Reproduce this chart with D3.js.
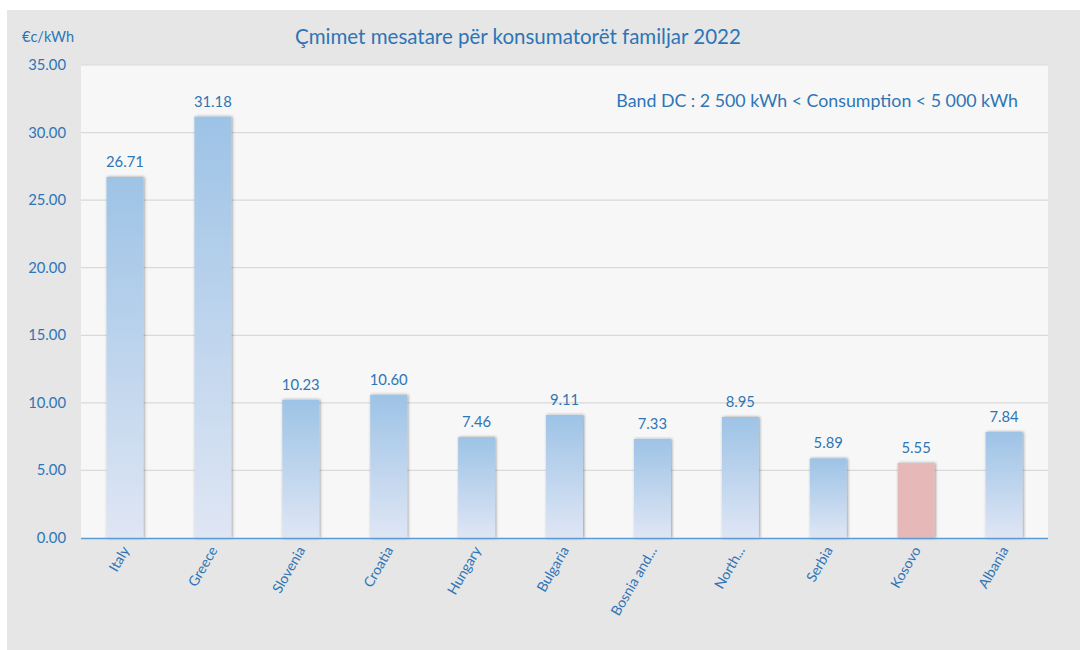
<!DOCTYPE html>
<html><head><meta charset="utf-8">
<script src="https://cdn.jsdelivr.net/npm/d3@7"></script>
<style>body{margin:0;background:#fff}svg{display:block}text{font-family:Lato,"Open Sans",sans-serif}</style>
</head><body>
<svg id="c" width="1080" height="650"></svg>
<script>
const categories = ["Italy","Greece","Slovenia","Croatia","Hungary","Bulgaria","Bosnia and...","North...","Serbia","Kosovo","Albania"];
const values = [26.71,31.18,10.23,10.60,7.46,9.11,7.33,8.95,5.89,5.55,7.84];
const highlight = ["Kosovo"];
const yTicks = [0,5,10,15,20,25,30,35];
const title = "Çmimet mesatare për konsumatorët familjar 2022";
const unitLabel = "€c/kWh";
const note = "Band DC : 2 500 kWh < Consumption < 5 000 kWh";

const svg = d3.select("#c");
const blue = "#2e75b6";
svg.append("rect").attr("x",7).attr("y",10).attr("width",1073).attr("height",640).attr("fill","#e6e6e6");
const m = {l:81, r:1048, t:65, b:538};
svg.append("rect").attr("x",m.l).attr("y",m.t).attr("width",m.r-m.l).attr("height",m.b-m.t).attr("fill","#f7f7f7");

const defs = svg.append("defs");
const g1 = defs.append("linearGradient").attr("id","gb").attr("x1",0).attr("y1",0).attr("x2",0).attr("y2",1);
g1.append("stop").attr("offset","0%").attr("stop-color","#9dc3e6");
g1.append("stop").attr("offset","100%").attr("stop-color","#dfe6f4");
const f = defs.append("filter").attr("id","sh").attr("x","-30%").attr("y","-10%").attr("width","160%").attr("height","120%");
f.append("feDropShadow").attr("dx",1).attr("dy",0).attr("stdDeviation",1.5).attr("flood-color","#000").attr("flood-opacity",0.4);

const x = d3.scaleBand().domain(categories).range([m.l,m.r]).paddingInner(0.58).paddingOuter(0.29);
const y = d3.scaleLinear().domain([0,35]).range([m.b,m.t]);

svg.append("g").selectAll("line").data(yTicks.filter(d=>d>0)).join("line")
  .attr("x1",m.l).attr("x2",m.r).attr("y1",d=>y(d)).attr("y2",d=>y(d))
  .attr("stroke","#d9d9d9").attr("stroke-width",1.2);

svg.append("g").selectAll("text").data(yTicks).join("text")
  .attr("x",66).attr("y",d=>y(d)+5).attr("text-anchor","end")
  .attr("font-size",14.8).attr("fill",blue).text(d=>d.toFixed(2));

svg.append("g").selectAll("rect").data(categories).join("rect")
  .attr("x",d=>x(d)).attr("width",x.bandwidth())
  .attr("y",(d,i)=>y(values[i])).attr("height",(d,i)=>y(0)-y(values[i]))
  .attr("fill",d=>highlight.includes(d)?"#e6b8b7":"url(#gb)")
  .attr("filter","url(#sh)");

svg.append("g").selectAll("text").data(categories).join("text")
  .attr("x",d=>x(d)+x.bandwidth()/2).attr("y",(d,i)=>y(values[i])-10)
  .attr("text-anchor","middle").attr("font-size",14.8).attr("fill",blue)
  .text((d,i)=>values[i].toFixed(2));

svg.append("line").attr("x1",m.l).attr("x2",m.r).attr("y1",m.b+0.5).attr("y2",m.b+0.5)
  .attr("stroke","#5b9bd5").attr("stroke-width",1.5);

svg.append("g").selectAll("text").data(categories).join("text")
  .attr("transform",d=>`translate(${x(d)+x.bandwidth()/2+5},${m.b+12}) rotate(-60)`)
  .attr("text-anchor","end").attr("font-size",14).attr("fill",blue).text(d=>d);

svg.append("text").attr("x",518).attr("y",44).attr("text-anchor","middle")
  .attr("font-size",20.5).attr("fill",blue).text(title);
svg.append("text").attr("x",22).attr("y",42).attr("font-size",14.5).attr("fill",blue).text(unitLabel);
svg.append("text").attr("x",1018).attr("y",107).attr("text-anchor","end")
  .attr("font-size",17.8).attr("fill",blue).text(note);
</script>
</body></html>
